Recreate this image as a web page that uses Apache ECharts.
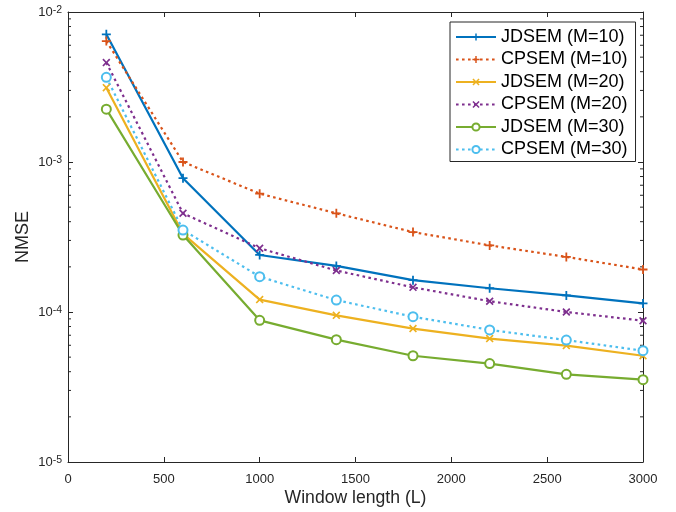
<!DOCTYPE html>
<html>
<head>
<meta charset="utf-8">
<title>NMSE vs window length</title>
<script src="https://cdn.jsdelivr.net/npm/echarts@6/dist/echarts.min.js"></script>
<style>
  html, body { margin: 0; padding: 0; background: #fff; }
  #chart { width: 676px; height: 512px; }
</style>
</head>
<body>
<div id="chart"></div>
<script>
// Window lengths (x) and NMSE per method
const windowLength = [200, 600, 1000, 1400, 1800, 2200, 2600, 3000];
const jdsemM10 = [7.1e-3, 7.8e-4, 2.40e-4, 2.03e-4, 1.63e-4, 1.44e-4, 1.29e-4, 1.14e-4];
const cpsemM10 = [6.4e-3, 1.0e-3, 6.15e-4, 4.55e-4, 3.41e-4, 2.78e-4, 2.33e-4, 1.92e-4];
const jdsemM20 = [3.13e-3, 3.32e-4, 1.21e-4, 9.5e-5, 7.75e-5, 6.65e-5, 5.97e-5, 5.11e-5];
const cpsemM20 = [4.6e-3, 4.55e-4, 2.66e-4, 1.89e-4, 1.46e-4, 1.18e-4, 1.0e-4, 8.75e-5];
const jdsemM30 = [2.25e-3, 3.26e-4, 8.8e-5, 6.54e-5, 5.11e-5, 4.53e-5, 3.84e-5, 3.54e-5];
const cpsemM30 = [3.67e-3, 3.52e-4, 1.72e-4, 1.2e-4, 9.3e-5, 7.6e-5, 6.5e-5, 5.52e-5];

const seriesNames = ['JDSEM (M=10)', 'CPSEM (M=10)', 'JDSEM (M=20)', 'CPSEM (M=20)', 'JDSEM (M=30)', 'CPSEM (M=30)'];
const xTicks = { min: 0, max: 3000, step: 500 };
const yRange = { min: 1e-5, max: 1e-2 };

const FONT = '"Liberation Sans", Arial, Helvetica, sans-serif';
const AXIS = '#262626';

// marker shapes
const PLUS = 'path://M4,0H6V4H10V6H6V10H4V6H0V4H4Z';
const CROSS = 'path://M0,1.5L1.5,0L5,3.5L8.5,0L10,1.5L6.5,5L10,8.5L8.5,10L5,6.5L1.5,10L0,8.5L3.5,5Z';

function pairs(ys) { return windowLength.map((x, i) => [x, ys[i]]); }

function lineSeries(name, ys, color, dotted, symbol, size) {
  return {
    name: name,
    type: 'line',
    data: pairs(ys),
    symbol: symbol,
    symbolSize: size,
    showAllSymbol: true,
    lineStyle: { color: color, width: 2.2, type: dotted ? [2.6, 3.4] : 'solid' },
    itemStyle: { color: color, borderColor: color, borderWidth: symbol === 'emptyCircle' ? 2 : 0 },
    emphasis: { disabled: true },
    z: 3
  };
}

// minor log ticks (2..9 within each decade)
const minorTicks = [];
for (let e = -5; e < -2; e++) {
  for (let m = 2; m <= 9; m++) minorTicks.push([0, m * Math.pow(10, e)]);
}

const supLabel = function (v) {
  const e = Math.round(Math.log10(v));
  return '{b|10}{s|' + e + '}';
};

const chart = echarts.init(document.getElementById('chart'), null, { renderer: 'canvas' });

chart.setOption({
  animation: false,
  backgroundColor: '#ffffff',
  textStyle: { fontFamily: FONT },
  grid: { left: 68, right: 33, top: 12, bottom: 49, containLabel: false },
  legend: {
    data: seriesNames,
    orient: 'vertical',
    left: 450,
    top: 22,
    padding: [6, 8, 3, 5],
    itemWidth: 40,
    itemHeight: 9,
    itemGap: 4.5,
    borderColor: AXIS,
    borderWidth: 1,
    backgroundColor: '#ffffff',
    textStyle: { fontFamily: FONT, fontSize: 18, lineHeight: 18, color: '#000' }
  },
  xAxis: [{
    type: 'value',
    min: xTicks.min, max: xTicks.max, interval: xTicks.step,
    position: 'bottom',
    name: 'Window length (L)',
    nameLocation: 'middle',
    nameGap: 27,
    nameMoveOverlap: false,
    nameTextStyle: { fontFamily: FONT, fontSize: 17.6, color: AXIS },
    axisLine: { onZero: false, lineStyle: { color: AXIS, width: 1 } },
    axisTick: { inside: true, length: 5, lineStyle: { color: AXIS } },
    axisLabel: { margin: 11, fontSize: 13, color: AXIS, fontFamily: FONT, formatter: v => String(v) },
    splitLine: { show: false }
  }, {
    type: 'value',
    min: xTicks.min, max: xTicks.max, interval: xTicks.step,
    position: 'top',
    axisLine: { onZero: false, lineStyle: { color: AXIS, width: 1 } },
    axisTick: { inside: true, length: 5, lineStyle: { color: AXIS } },
    axisLabel: { show: false },
    splitLine: { show: false }
  }],
  yAxis: [{
    type: 'log',
    logBase: 10,
    min: yRange.min, max: yRange.max,
    splitNumber: 3,
    position: 'left',
    name: 'NMSE',
    nameLocation: 'middle',
    nameGap: 36,
    nameMoveOverlap: false,
    nameTextStyle: { fontFamily: FONT, fontSize: 18, color: AXIS },
    axisLine: { onZero: false, lineStyle: { color: AXIS, width: 1 } },
    axisTick: { inside: true, length: 5, lineStyle: { color: AXIS } },
    axisLabel: {
      margin: 6,
      formatter: supLabel,
      rich: {
        b: { fontSize: 13, color: AXIS, fontFamily: FONT, lineHeight: 14, verticalAlign: 'bottom' },
        s: { fontSize: 10.5, color: AXIS, fontFamily: FONT, lineHeight: 11, verticalAlign: 'top', padding: [0, 0, 9, 0] }
      }
    },
    splitLine: { show: false }
  }, {
    type: 'log',
    logBase: 10,
    min: yRange.min, max: yRange.max,
    splitNumber: 3,
    position: 'right',
    axisLine: { onZero: false, lineStyle: { color: AXIS, width: 1 } },
    axisTick: { inside: true, length: 5, lineStyle: { color: AXIS } },
    axisLabel: { show: false },
    splitLine: { show: false }
  }],
  series: [
    lineSeries(seriesNames[0], jdsemM10, '#0072BD', false, PLUS, 9),
    lineSeries(seriesNames[1], cpsemM10, '#D95319', true, PLUS, 9),
    lineSeries(seriesNames[2], jdsemM20, '#EDB120', false, CROSS, 8),
    lineSeries(seriesNames[3], cpsemM20, '#7E2F8E', true, CROSS, 8),
    lineSeries(seriesNames[4], jdsemM30, '#77AC30', false, 'emptyCircle', 9),
    lineSeries(seriesNames[5], cpsemM30, '#4DBEEE', true, 'emptyCircle', 9),
    {
      // minor tick marks on both vertical edges
      type: 'custom',
      silent: true,
      clip: false,
      z: 2,
      data: minorTicks,
      renderItem: function (params, api) {
        const v = api.value(1);
        const l = api.coord([xTicks.min, v]);
        const r = api.coord([xTicks.max, v]);
        const st = { stroke: AXIS, lineWidth: 1 };
        return {
          type: 'group',
          children: [
            { type: 'line', shape: { x1: l[0], y1: l[1], x2: l[0] + 3, y2: l[1] }, style: st },
            { type: 'line', shape: { x1: r[0], y1: r[1], x2: r[0] - 3, y2: r[1] }, style: st }
          ]
        };
      }
    }
  ]
});
</script>
</body>
</html>
